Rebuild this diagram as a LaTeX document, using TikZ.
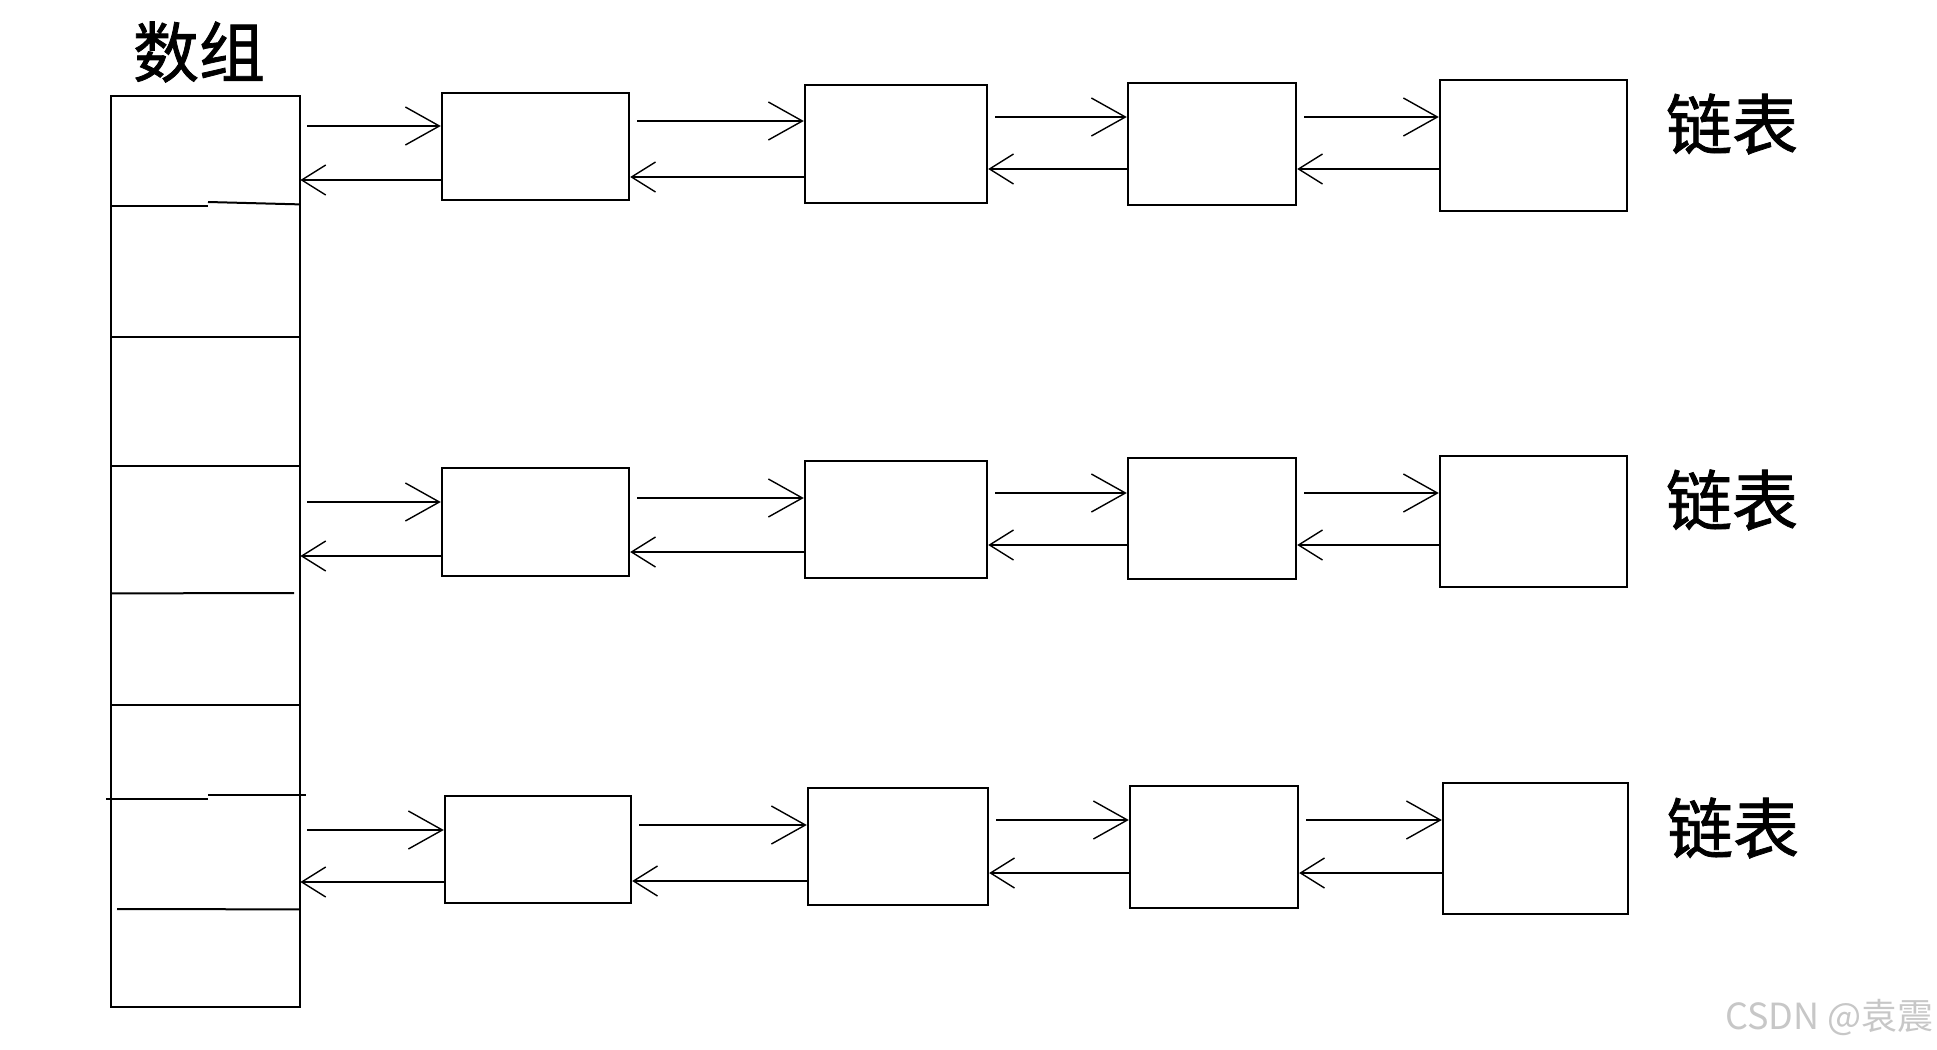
\documentclass[tikz,border=0pt]{standalone}
\usepackage{fontspec}
\newfontfamily\cjk{Noto Sans CJK SC}
\newfontfamily\cjkb[FakeBold=1.2]{Noto Sans CJK SC}
\usetikzlibrary{arrows.meta,fit}
\begin{document}
\begin{tikzpicture}[x=0.5pt,y=-0.5pt,
  box/.style={draw,line width=1.2pt,inner sep=0pt,rectangle},
  cell/.style={inner sep=0pt,rectangle},
  fwd/.style={line width=1.1pt,shorten <=3.5pt,-{Straight Barb[length=17pt,width=19pt,line width=0.7pt]}},
  bwd/.style={line width=1.1pt,-{Straight Barb[length=12pt,width=15pt,line width=0.7pt]}},
  divider/.style={line width=1pt},
  title/.style={font=\cjkb\fontsize{33}{36}\selectfont,inner sep=0pt},
  wmark/.style={font=\cjk\fontsize{18}{20}\selectfont,text=black!22,inner sep=0pt}]
\useasboundingbox (0,0) rectangle (1937,1049);
\fill[white] (0,0) rectangle (1937,1049);

% array
\node[box,line width=1pt,fit={(111,96) (300,1007)}] (array) {};
\node[cell,fit={(111,96) (300,204)}] (c1) {};
\node[cell,fit={(111,204) (300,337)}] (c2) {};
\node[cell,fit={(111,337) (300,466)}] (c3) {};
\node[cell,fit={(111,466) (300,593)}] (c4) {};
\node[cell,fit={(111,593) (300,705)}] (c5) {};
\node[cell,fit={(111,705) (300,797)}] (c6) {};
\node[cell,fit={(111,797) (300,909)}] (c7) {};
\node[cell,fit={(111,909) (300,1007)}] (c8) {};
\draw[divider] (111,206) -- (208,206);
\draw[divider] (208,202) -- (c1.south east);
\draw[divider] (c2.south west) -- (c2.south east);
\draw[divider] (c3.south west) -- (c3.south east);
\draw[divider] (c4.south west) -- (294,593);
\draw[divider] (c5.south west) -- (c5.south east);
\draw[divider] (106,799) -- (208,799);
\draw[divider,line width=1.4pt] (208,795) -- (306,795);
\draw[divider] (117,909) -- (c7.south east);

\node[title] (arrtitle) at (199,52) {数组};

% row 1
\node[box,fit={(442,93) (629,200)}] (A1) {};
\node[box,fit={(805,85) (987,203)}] (B1) {};
\node[box,fit={(1128,83) (1296,205)}] (C1) {};
\node[box,fit={(1440,80) (1627,211)}] (D1) {};
% row 2
\node[box,fit={(442,468) (629,576)}] (A2) {};
\node[box,fit={(805,461) (987,578)}] (B2) {};
\node[box,fit={(1128,458) (1296,579)}] (C2) {};
\node[box,fit={(1440,456) (1627,587)}] (D2) {};
% row 3
\node[box,fit={(445,796) (631,903)}] (A3) {};
\node[box,fit={(808,788) (988,905)}] (B3) {};
\node[box,fit={(1130,786) (1298,908)}] (C3) {};
\node[box,fit={(1443,783) (1628,914)}] (D3) {};

\node[title] (L1) at (1732,124) {链表};
\node[title] (L2) at (1732,500) {链表};
\node[title] (L3) at (1733,828) {链表};

% connectors row 1
\draw[fwd] (c1.east |- 0,126) -- (A1.west |- 0,126);
\draw[bwd] (A1.west |- 0,180) -- (c1.east |- 0,180);
\draw[fwd] (A1.east |- 0,121) -- (B1.west |- 0,121);
\draw[bwd] (B1.west |- 0,177) -- (A1.east |- 0,177);
\draw[fwd] (B1.east |- 0,117) -- (C1.west |- 0,117);
\draw[bwd] (C1.west |- 0,169) -- (B1.east |- 0,169);
\draw[fwd] (C1.east |- 0,117) -- (D1.west |- 0,117);
\draw[bwd] (D1.west |- 0,169) -- (C1.east |- 0,169);
% connectors row 2
\draw[fwd] (c4.east |- 0,502) -- (A2.west |- 0,502);
\draw[bwd] (A2.west |- 0,556) -- (c4.east |- 0,556);
\draw[fwd] (A2.east |- 0,498) -- (B2.west |- 0,498);
\draw[bwd] (B2.west |- 0,552) -- (A2.east |- 0,552);
\draw[fwd] (B2.east |- 0,493) -- (C2.west |- 0,493);
\draw[bwd] (C2.west |- 0,545) -- (B2.east |- 0,545);
\draw[fwd] (C2.east |- 0,493) -- (D2.west |- 0,493);
\draw[bwd] (D2.west |- 0,545) -- (C2.east |- 0,545);
% connectors row 3
\draw[fwd] (c7.east |- 0,830) -- (A3.west |- 0,830);
\draw[bwd] (A3.west |- 0,882) -- (c7.east |- 0,882);
\draw[fwd] (A3.east |- 0,825) -- (B3.west |- 0,825);
\draw[bwd] (B3.west |- 0,881) -- (A3.east |- 0,881);
\draw[fwd] (B3.east |- 0,820) -- (C3.west |- 0,820);
\draw[bwd] (C3.west |- 0,873) -- (B3.east |- 0,873);
\draw[fwd] (C3.east |- 0,820) -- (D3.west |- 0,820);
\draw[bwd] (D3.west |- 0,873) -- (C3.east |- 0,873);

\node[wmark,anchor=east] (wm) at (1934,1017) {CSDN @袁震};
\end{tikzpicture}
\end{document}
